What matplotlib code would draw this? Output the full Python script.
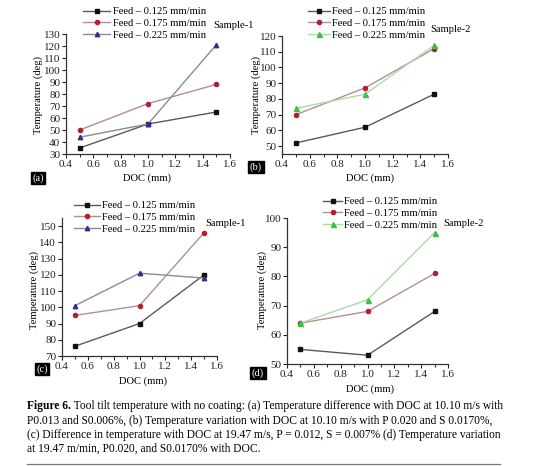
import matplotlib
matplotlib.use("Agg")
import matplotlib.pyplot as plt
from matplotlib.ticker import MultipleLocator
from matplotlib.lines import Line2D

plt.rcParams['font.family'] = ['Liberation Serif', 'DejaVu Serif']

W, H = 534, 466
DPI = 100

doc = [0.5, 1.0, 1.5]
labels = ["Feed \u2013 0.125 mm/min", "Feed \u2013 0.175 mm/min", "Feed \u2013 0.225 mm/min"]

# Panel (a) Sample-1
a_f125 = [35, 55, 65]
a_f175 = [50, 72, 88]
a_f225 = [44, 55, 121]
# Panel (b) Sample-2
b_f125 = [52, 62, 83]
b_f175 = [70, 87, 112]
b_f225 = [74, 83, 114]
# Panel (c) Sample-1
c_f125 = [76, 90, 120]
c_f175 = [95, 101, 146]
c_f225 = [101, 121, 118]
# Panel (d) Sample-2
d_f125 = [55, 53, 68]
d_f175 = [64, 68, 81]
d_f225 = [64, 72, 95]

caption_bold = "Figure 6."
caption_lines = [
    " Tool tilt temperature with no coating: (a) Temperature difference with DOC at 10.10 m/s with",
    "P0.013 and S0.006%, (b) Temperature variation with DOC at 10.10 m/s with P 0.020 and S 0.0170%,",
    "(c) Difference in temperature with DOC at 19.47 m/s, P = 0.012, S = 0.007% (d) Temperature variation",
    "at 19.47 m/min, P0.020, and S0.0170% with DOC.",
]

fig = plt.figure(figsize=(W / DPI, H / DPI), dpi=DPI)
fig.patch.set_facecolor('white')


def px_axes(l, t, r, b):
    return fig.add_axes([l / W, 1 - b / H, (r - l) / W, (b - t) / H])


def fx(x):
    return x / W


def fy(y):
    return 1 - y / H


FS = 7.6

panels = [
    dict(box=(66, 34, 230, 154), ylim=(30, 130), data=(a_f125, a_f175, a_f225), third='blue',
         sample="Sample-1", sample_xy=(233, 25), tag="(a)", tag_xy=(38, 178),
         xlabel_xy=(147, 178), ylabel_xy=(38, 95), leg_xy=(83, 7), hl=2.6),
    dict(box=(282, 36, 448, 154), ylim=(45, 120), data=(b_f125, b_f175, b_f225), third='green',
         sample="Sample-2", sample_xy=(450, 29), tag="(b)", tag_xy=(256, 167),
         xlabel_xy=(370, 178), ylabel_xy=(256, 95), leg_xy=(308, 7), hl=2.1),
    dict(box=(62, 218, 217, 356), ylim=(70, 155), data=(c_f125, c_f175, c_f225), third='blue',
         sample="Sample-1", sample_xy=(225, 223), tag="(c)", tag_xy=(42, 369),
         xlabel_xy=(143, 381), ylabel_xy=(34, 290), leg_xy=(74, 201), hl=2.5),
    dict(box=(287, 218, 448, 364), ylim=(50, 100), data=(d_f125, d_f175, d_f225), third='green',
         sample="Sample-2", sample_xy=(463, 223), tag="(d)", tag_xy=(258, 373),
         xlabel_xy=(370, 389), ylabel_xy=(262, 290), leg_xy=(323, 197), hl=1.8),
]

styles = {
    'black': dict(color='#5a5a5a', mfc='#111111', mec='#111111', marker='s', ms=2.8),
    'red': dict(color='#b09090', mfc='#b02030', mec='#b02030', marker='o', ms=3.0),
    'blue': dict(color='#8a8a98', mfc='#303090', mec='#303090', marker='^', ms=3.2),
    'green': dict(color='#a8dca8', mfc='#40c040', mec='#40c040', marker='^', ms=3.6),
}

for p in panels:
    ax = px_axes(*p['box'])
    keys = ['black', 'red', p['third']]
    handles = []
    for vals, k, lab in zip(p['data'], keys, labels):
        st = styles[k]
        ln, = ax.plot(doc, vals, color=st['color'], lw=1.0, marker=st['marker'],
                      ms=st['ms'], mfc=st['mfc'], mec=st['mec'], label=lab)
        handles.append(ln)
    ax.set_xlim(0.4, 1.6)
    ax.set_ylim(*p['ylim'])
    ax.xaxis.set_major_locator(MultipleLocator(0.2))
    ax.xaxis.set_minor_locator(MultipleLocator(0.1))
    ax.yaxis.set_major_locator(MultipleLocator(10))
    ax.xaxis.set_major_formatter(matplotlib.ticker.FormatStrFormatter('%.1f'))
    for s in ['top', 'right']:
        ax.spines[s].set_visible(False)
    for s in ['left', 'bottom']:
        ax.spines[s].set_color('#333333')
        ax.spines[s].set_linewidth(0.9)
    ax.tick_params(axis='both', which='major', labelsize=8.0, length=3, width=0.8,
                   direction='out', pad=1.2, colors='#222222')
    ax.tick_params(axis='x', which='minor', length=2, width=0.6, direction='out')
    # labels
    ax.set_xlabel("DOC (mm)", fontsize=FS)
    ax.set_ylabel("Temperature (deg)", fontsize=FS, ha='center', va='center')
    l, t, r, b = p['box']
    xl, yl = p['xlabel_xy']
    ax.xaxis.set_label_coords((xl - l) / (r - l), (b - yl) / (b - t))
    ax.xaxis.label.set_va('center')
    xl, yl = p['ylabel_xy']
    ax.yaxis.set_label_coords((xl - l) / (r - l), (b - yl) / (b - t))
    # legend
    lx, ly = p['leg_xy']
    ax.legend(handles=handles, loc='upper left', bbox_to_anchor=(fx(lx), fy(ly)),
              bbox_transform=fig.transFigure, frameon=False, fontsize=FS,
              handlelength=p['hl'], handletextpad=0.2, labelspacing=0.22,
              borderpad=0, borderaxespad=0)
    fig.text(fx(p['sample_xy'][0]), fy(p['sample_xy'][1]), p['sample'],
             fontsize=FS, ha='center', va='center')
    fig.text(fx(p['tag_xy'][0]), fy(p['tag_xy'][1]), p['tag'], fontsize=FS,
             color='white', ha='center', va='center',
             bbox=dict(boxstyle='square,pad=0.15', fc='black', ec='black'))

# caption
cap_x = 27
cap_ys = [406, 421, 435, 449]
CFS = 8.3
t0 = fig.text(fx(cap_x), fy(cap_ys[0]), caption_bold, fontsize=CFS, fontweight='bold',
              ha='left', va='center')
fig.canvas.draw()
bb = t0.get_window_extent(renderer=fig.canvas.get_renderer())
fig.text(bb.x1 / W, fy(cap_ys[0]), caption_lines[0], fontsize=CFS, ha='left', va='center')
for line, y in zip(caption_lines[1:], cap_ys[1:]):
    fig.text(fx(cap_x), fy(y), line, fontsize=CFS, ha='left', va='center')

fig.add_artist(Line2D([fx(27), fx(500)], [fy(464), fy(464)], color='#777777', lw=0.9))

fig.savefig("out.png", dpi=DPI)
